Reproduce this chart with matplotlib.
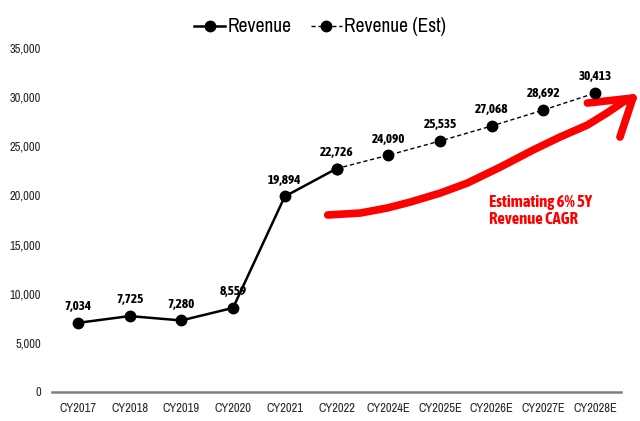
import matplotlib
matplotlib.use("Agg")
import matplotlib.pyplot as plt

REG = ["Archivo Narrow", "Liberation Sans", "DejaVu Sans"]
BOLD = ["Asap Condensed", "Liberation Sans", "DejaVu Sans"]

categories = ["CY2017", "CY2018", "CY2019", "CY2020", "CY2021", "CY2022",
              "CY2024E", "CY2025E", "CY2026E", "CY2027E", "CY2028E"]
actual = [7034, 7725, 7280, 8559, 19894, 22726]
estimate = [22726, 24090, 25535, 27068, 28692, 30413]
yticks = [0, 5000, 10000, 15000, 20000, 25000, 30000, 35000]

# decorative hand-drawn arrow path (data coordinates)
arrow_x = [4.83, 5.46, 5.98, 6.43, 7.01, 7.53, 8.17, 8.80, 9.32, 9.85,
           10.23, 10.54, 10.73]
arrow_y = [18010, 18210, 18720, 19330, 20250, 21260, 22890, 24620, 25940,
           27160, 28390, 29500, 29910]
wing1_x = [10.73, 9.85]
wing1_y = [29910, 29400]
wing2_x = [10.73, 10.48]
wing2_y = [29910, 25940]

fig = plt.figure(figsize=(6.4, 4.21), dpi=100)
ax = fig.add_axes([52/640, 29/421, (621-52)/640, (392-48)/421])

xa = list(range(len(actual)))
xe = list(range(len(actual)-1, len(categories)))
ax.plot(xa, actual, color="black", lw=1.8, marker="o", ms=7.5,
        label="Revenue", zorder=3)
ax.plot(xe, estimate, color="black", lw=1.0, ls=(0, (3, 2)), marker="o", ms=7.5,
        label="Revenue (Est)", zorder=3)

vals = actual + estimate[1:]
for i, v in enumerate(vals):
    ax.annotate(f"{v:,}", (i, v), xytext=(0, 7), textcoords="offset points",
                ha="center", va="bottom", family=BOLD, fontweight="bold",
                fontsize=9.5, color="black", zorder=4)

for xs, ys in [(arrow_x, arrow_y), (wing1_x, wing1_y), (wing2_x, wing2_y)]:
    ax.plot(xs, ys, color="#ff0000", lw=5.5, solid_capstyle="round",
            solid_joinstyle="round", zorder=2, clip_on=False)
ax.text(7.95, 20100, "Estimating 6% 5Y\nRevenue CAGR", color="#ff0000",
        family=BOLD, fontweight="bold", fontsize=12,
        ha="left", va="top", linespacing=1.05)

ax.set_xlim(-0.5, len(categories) - 0.5)
ax.set_ylim(0, 35000)
ax.set_xticks(range(len(categories)))
ax.set_xticklabels(categories, color="#262626", family=REG, fontsize=9)
ax.set_yticks(yticks)
ax.set_yticklabels([f"{t:,}" for t in yticks], color="#262626", family=REG,
                   fontsize=9)
ax.tick_params(length=0, pad=8)
for s in ["top", "right", "left"]:
    ax.spines[s].set_visible(False)
ax.spines["bottom"].set_color("#7f7f7f")
ax.spines["bottom"].set_linewidth(1.8)

fig.legend(loc="upper center", bbox_to_anchor=(0.5, 1.0), ncol=2,
           frameon=False, prop={"family": REG, "size": 14},
           handlelength=1.6, columnspacing=1.0, handletextpad=0.1)

fig.savefig("out.png", dpi=100)
